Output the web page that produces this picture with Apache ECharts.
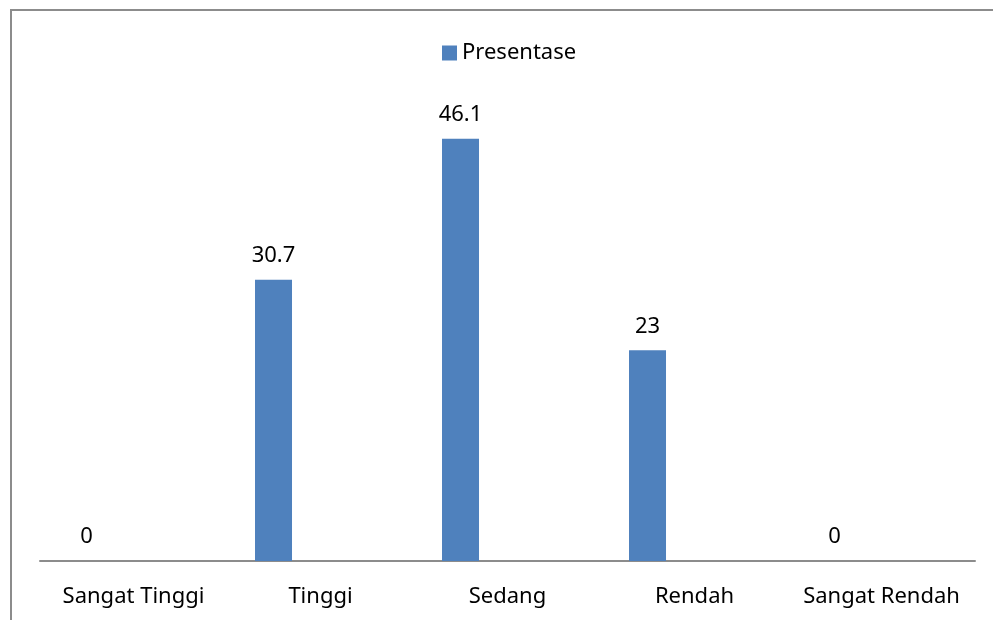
<!DOCTYPE html>
<html>
<head>
<meta charset="utf-8">
<script src="https://cdn.jsdelivr.net/npm/echarts@6/dist/echarts.min.js"></script>
<style>
html, body { margin: 0; padding: 0; background: #fff; }
#chart { width: 993px; height: 620px; }
</style>
</head>
<body>
<div id="chart"></div>
<script>
const categories = ['Sangat Tinggi', 'Tinggi', 'Sedang', 'Rendah', 'Sangat Rendah'];
const presentase = [0, 30.7, 46.1, 23, 0];
const seriesName = 'Presentase';

const FONT = 'Noto Sans';
const chart = echarts.init(document.getElementById('chart'));

chart.setOption({
  animation: false,
  textStyle: { fontFamily: FONT },
  graphic: [
    { type: 'line', shape: { x1: 10, y1: 10, x2: 993, y2: 10 }, style: { stroke: '#8c8c8c', lineWidth: 2 } },
    { type: 'line', shape: { x1: 11, y1: 10, x2: 11, y2: 620 }, style: { stroke: '#8c8c8c', lineWidth: 2 } }
  ],
  legend: {
    data: [seriesName],
    top: 37,
    left: 437,
    itemWidth: 15,
    itemHeight: 15,
    itemGap: 8,
    icon: 'rect',
    textStyle: { fontSize: 22, color: '#000', fontFamily: FONT }
  },
  grid: { left: 40, right: 18, top: 103, bottom: 59 },
  xAxis: {
    type: 'category',
    data: categories,
    axisLine: { lineStyle: { color: '#8c8c8c', width: 2 } },
    axisTick: { show: false },
    axisLabel: { fontSize: 22, color: '#000', margin: 25, fontFamily: FONT, interval: 0 }
  },
  yAxis: {
    type: 'value',
    min: 0,
    max: 50,
    show: false
  },
  series: [
    {
      name: seriesName,
      type: 'bar',
      data: presentase,
      barWidth: 37,
      barGap: '154%',
      itemStyle: { color: '#4F81BD' },
      label: {
        show: true,
        position: 'top',
        distance: 13,
        fontSize: 22,
        color: '#000',
        fontFamily: FONT
      }
    },
    {
      name: 'spacer',
      type: 'bar',
      data: categories.map(() => null),
      barWidth: 37,
      silent: true
    }
  ]
});
</script>
</body>
</html>
